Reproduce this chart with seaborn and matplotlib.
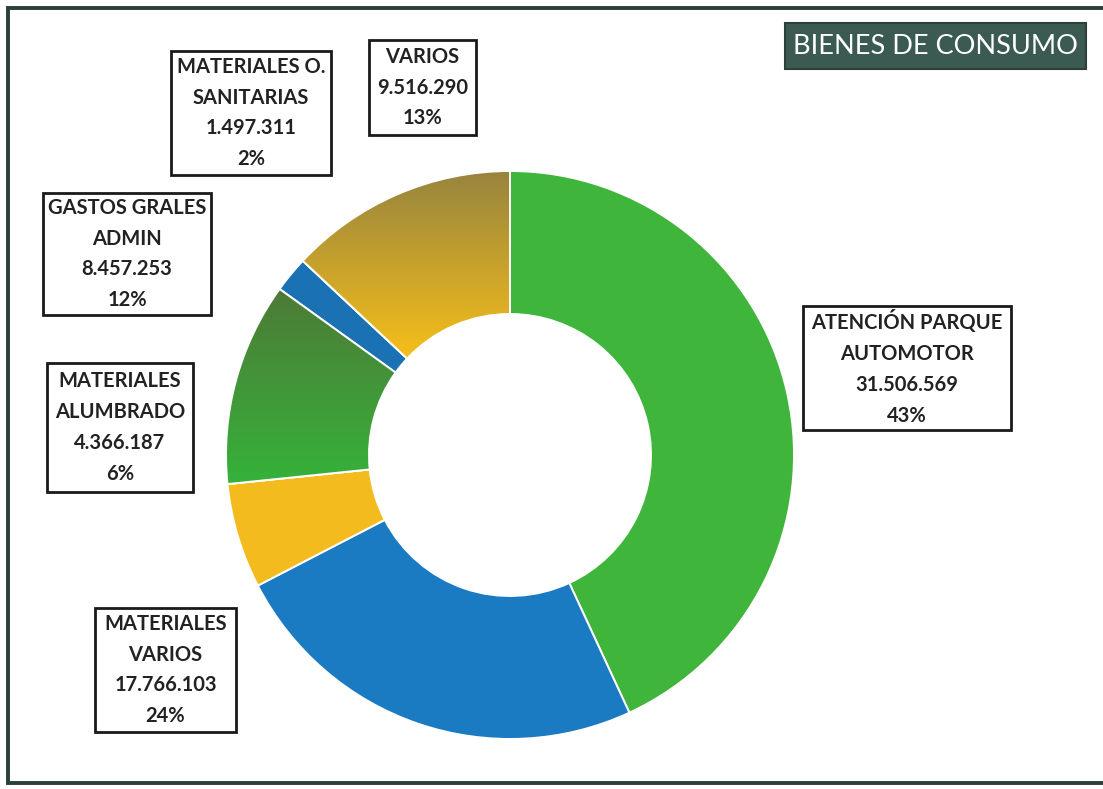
import numpy as np
import matplotlib
matplotlib.use("Agg")
import matplotlib.pyplot as plt
import seaborn as sns
from matplotlib.patches import Rectangle, PathPatch
from matplotlib.colors import LinearSegmentedColormap

sns.set_theme(style="white")
plt.rcParams['font.family'] = ['Lato', 'DejaVu Sans']

# ---- data ----
categories = ["ATENCIÓN PARQUE\nAUTOMOTOR", "MATERIALES\nVARIOS", "MATERIALES\nALUMBRADO",
              "GASTOS GRALES\nADMIN", "MATERIALES O.\nSANITARIAS", "VARIOS"]
values = [31506569, 17766103, 4366187, 8457253, 1497311, 9516290]
title = "BIENES DE CONSUMO"

# ---- styles ----
colors = ["#3fb53c", "#1b7bc2", "#f4bb1e", "#3f9a37", "#1a72b4", "#c9a12a"]
gradients = {3: ("#4e7a37", "#36b23a"), 5: ("#97843e", "#f6bf1a")}
# label box rectangles in pixel coords (x0, y0, x1, y1), y from top
boxes = [(803, 306, 1011, 430), (95, 608, 236, 732), (47, 363, 193, 492),
         (43, 193, 211, 315), (171, 51, 331, 175), (369, 40, 476, 135)]

W, H = 1103, 789
fig = plt.figure(figsize=(W / 100, H / 100), dpi=100)
fig.patch.set_facecolor("white")
ax = fig.add_axes([0, 0, 1, 1])


def Y(py):
    return H - py


cx, cy, R, r = 510, Y(455), 284, 141
wedges, _ = ax.pie(values, center=(cx, cy), radius=R, startangle=90, counterclock=False,
                   colors=colors, wedgeprops=dict(width=R - r, edgecolor="white", linewidth=1.4),
                   frame=True)

for i, (c_top, c_bot) in gradients.items():
    w = wedges[i]
    cmap = LinearSegmentedColormap.from_list("g%d" % i, [c_bot, c_top])
    grad = np.linspace(0, 1, 256).reshape(-1, 1)
    bb = w.get_path().get_extents()
    im = ax.imshow(grad, cmap=cmap, origin="lower", aspect="auto",
                   extent=(bb.x0, bb.x1, bb.y0, bb.y1), zorder=w.get_zorder() + 0.1)
    im.set_clip_path(w)
    ax.add_patch(PathPatch(w.get_path(), fill=False, edgecolor="white",
                           linewidth=1.4, zorder=w.get_zorder() + 0.2))

ax.set_xlim(0, W)
ax.set_ylim(0, H)
ax.set_aspect("equal")
ax.axis("off")

total = sum(values)
for cat, v, (x0, y0, x1, y1) in zip(categories, values, boxes):
    ax.add_patch(Rectangle((x0, Y(y1)), x1 - x0, y1 - y0, facecolor="white",
                           edgecolor="#1a1a1a", linewidth=2.0, zorder=6))
    txt = f"{cat}\n{v:,}".replace(",", ".") + f"\n{round(100 * v / total)}%"
    ax.text((x0 + x1) / 2, Y((y0 + y1) / 2), txt, ha="center", va="center",
            fontsize=14.5, fontweight="bold", color="#222222", linespacing=1.68, zorder=7)

# title box
ax.add_patch(Rectangle((785, Y(69)), 1086 - 785, 69 - 23, facecolor="#3b5a52",
                       edgecolor="#2c3f3a", linewidth=1.5, zorder=6))
ax.text((785 + 1086) / 2, Y(46), title, ha="center", va="center", fontsize=19.5,
        color="white", zorder=7)

# outer frame (top, left, bottom)
ax.plot([W + 5, 8, 8, W + 5], [Y(8), Y(8), Y(783), Y(783)], color="#2b403b",
        linewidth=2.8, solid_joinstyle="miter", zorder=8, clip_on=False)

fig.savefig("out.png", dpi=100, facecolor="white")
